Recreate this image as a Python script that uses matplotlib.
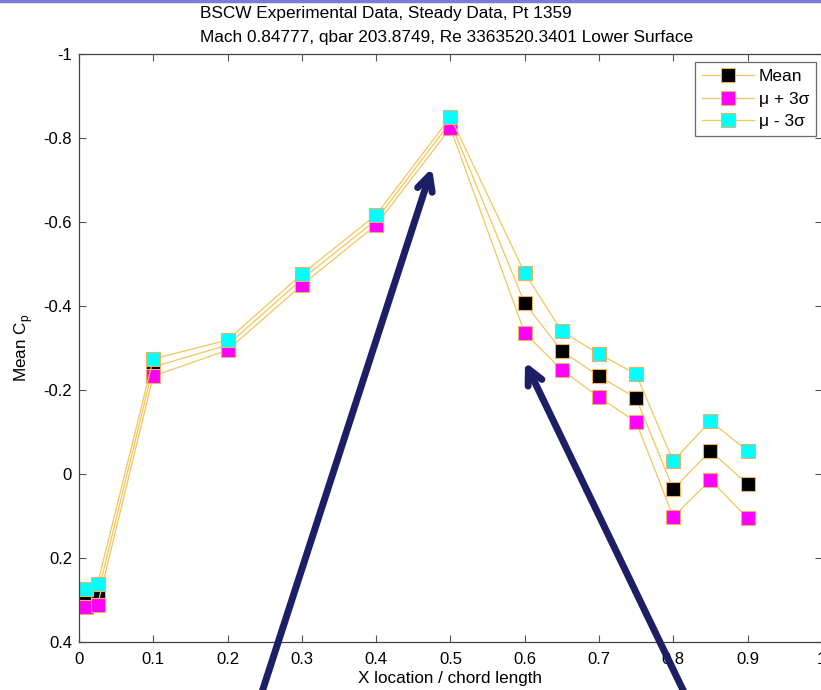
import matplotlib
matplotlib.use("Agg")
import matplotlib.pyplot as plt
from matplotlib.lines import Line2D

plt.rcParams['font.family'] = ['Liberation Sans', 'DejaVu Sans']

# pressure tap locations along the chord
x_loc = [0.01, 0.025, 0.1, 0.2, 0.3, 0.4, 0.5, 0.6, 0.65, 0.7, 0.75, 0.8, 0.85, 0.9]

cp_mean = [0.295, 0.288, -0.255, -0.307, -0.464, -0.605, -0.838, -0.407,
           -0.293, -0.233, -0.181, 0.036, -0.055, 0.024]
cp_plus = [0.316, 0.312, -0.233, -0.295, -0.450, -0.593, -0.824, -0.336,
           -0.248, -0.183, -0.124, 0.102, 0.014, 0.105]
cp_minus = [0.274, 0.262, -0.274, -0.319, -0.476, -0.617, -0.850, -0.479,
            -0.340, -0.286, -0.238, -0.031, -0.126, -0.055]

labels = ['Mean', 'μ + 3σ', 'μ - 3σ']
face_colors = ['black', '#ff00ff', '#00ffff']

x_ticks = [0, 0.1, 0.2, 0.3, 0.4, 0.5, 0.6, 0.7, 0.8, 0.9, 1]
y_ticks = [-1, -0.8, -0.6, -0.4, -0.2, 0, 0.2, 0.4]

line_col = '#f2c65a'
edge_col = '#f0b060'

fig = plt.figure(figsize=(8.21, 6.90), dpi=100)
ax = fig.add_axes([0.0962, 0.0696, 0.9048, 0.852])

for ys, fc, lab in zip([cp_mean, cp_plus, cp_minus], face_colors, labels):
    ax.plot(x_loc, ys, color=line_col, lw=0.9, marker='s', markersize=9.5,
            markerfacecolor=fc, markeredgecolor=edge_col, markeredgewidth=0.8,
            label=lab)

ax.set_xlim(0, 1)
ax.set_ylim(0.4, -1)
ax.set_xticks(x_ticks)
ax.set_xticklabels(['0', '0.1', '0.2', '0.3', '0.4', '0.5', '0.6', '0.7', '0.8', '0.9', '1'])
ax.set_yticks(y_ticks)
ax.set_yticklabels(['-1', '-0.8', '-0.6', '-0.4', '-0.2', '0', '0.2', '0.4'])
ax.tick_params(direction='in', length=5, width=0.8, color='#555555',
               top=True, right=True, labelsize=12)
ax.tick_params(axis='x', pad=7)
ax.tick_params(axis='y', pad=5)
for sp in ax.spines.values():
    sp.set_color('#444444')
    sp.set_linewidth(0.9)

ax.set_xlabel('X location / chord length', fontsize=12.3, labelpad=3)
ax.set_ylabel(r'Mean C$_\mathregular{p}$', fontsize=12.3, labelpad=6)

fig.text(0.5435, 0.9635,
         'BSCW Experimental Data, Steady Data, Pt 1359\n'
         'Mach 0.84777, qbar 203.8749, Re 3363520.3401 Lower Surface',
         ha='center', va='center', multialignment='left', fontsize=12.4,
         linespacing=1.72)

leg = ax.legend(loc='upper right', bbox_to_anchor=(0.9926, 0.9864), fontsize=12.5,
                frameon=True, fancybox=False, edgecolor='#444444',
                handlelength=3.0, borderpad=0.4, labelspacing=0.42,
                handletextpad=0.3, borderaxespad=0)
leg.get_frame().set_linewidth(0.9)

# slide border across the top
fig.add_artist(Line2D([0, 1], [0.998, 0.998], transform=fig.transFigure,
                      color='#7b7bd8', lw=2.5))

# pointer arrows overlaid on the slide
arrow_col = '#1c1f66'
for tail, tip in [((262, 692), (432, 168)), ((684, 692), (525, 362))]:
    ax.annotate('', xy=(tip[0] / 821, 1 - tip[1] / 690),
                xytext=(tail[0] / 821, 1 - tail[1] / 690),
                xycoords='figure fraction', textcoords='figure fraction',
                arrowprops=dict(arrowstyle='->,head_length=1.1,head_width=0.55',
                                color=arrow_col, lw=5, shrinkA=0, shrinkB=0),
                annotation_clip=False)

fig.savefig('out.png', dpi=100)
